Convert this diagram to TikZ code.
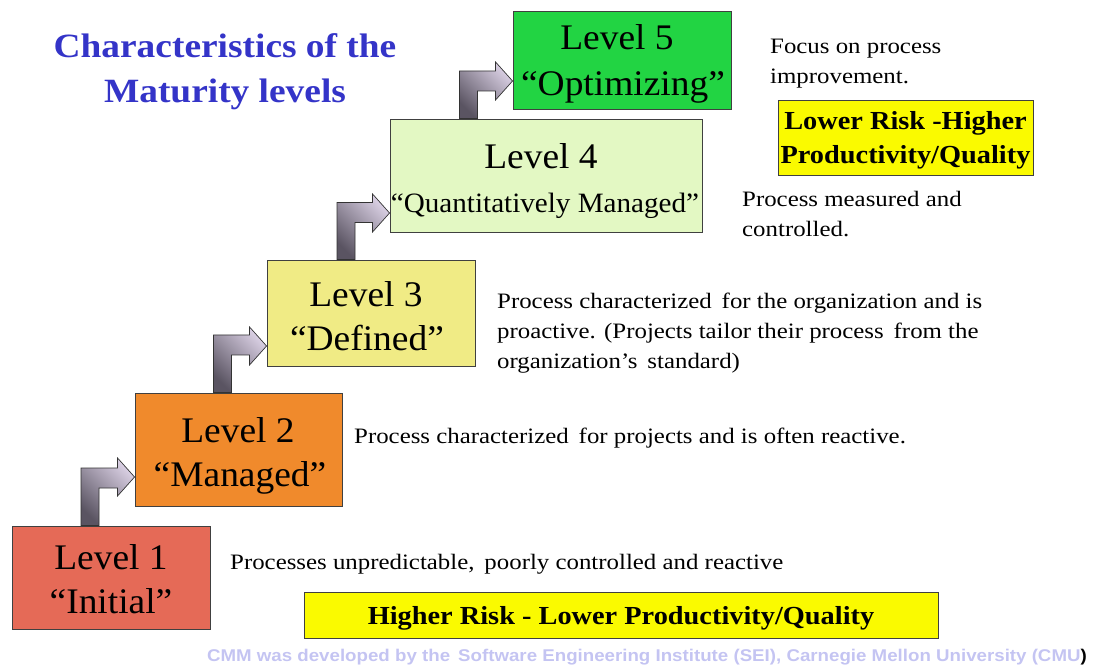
\documentclass[tikz,border=0pt]{standalone}
\usepackage{fontspec}
\setmainfont{Liberation Serif}
\newfontfamily\bodyfont[FakeStretch=1.13]{Liberation Serif}
\newfontfamily\titlefont[FakeStretch=1.1]{Liberation Serif}
\newfontfamily\riskfont[FakeStretch=1.09]{Liberation Serif}
\newfontfamily\lvlfont[FakeStretch=1.04]{Liberation Serif}
\newfontfamily\footfont[FakeStretch=1.1]{Liberation Sans}
\usetikzlibrary{calc}
\definecolor{titleblue}{HTML}{3434C8}
\definecolor{lvla}{HTML}{E56A57}
\definecolor{lvlb}{HTML}{F08A2C}
\definecolor{lvlc}{HTML}{F0EB85}
\definecolor{lvld}{HTML}{E3F8C3}
\definecolor{lvle}{HTML}{22D443}
\definecolor{riskyellow}{HTML}{FAFA00}
\definecolor{arrdark}{HTML}{5A5462}
\definecolor{arrlight}{HTML}{DAD0E4}
\definecolor{footblue}{HTML}{C4C4F2}
\definecolor{edge}{HTML}{404040}
\tikzset{
  lvlbox/.style={draw=edge, line width=0.9pt, rectangle, inner sep=0pt, align=center},
  lvltext/.style={font=\lvlfont\fontsize{36}{44}\selectfont},
  desc/.style={anchor=west, align=left, inner sep=0pt, font=\bodyfont\fontsize{22}{30}\selectfont},
  riskbox/.style={draw=edge, line width=0.9pt, fill=riskyellow, inner sep=0pt},
  risktext/.style={inner sep=0pt, align=center, font=\riskfont\bfseries\fontsize{26}{34}\selectfont},
  bentarrow/.style={draw=black!80, line width=0.7pt, top color=arrlight, bottom color=arrdark, shading angle=-45},
}
\newcommand{\bentarr}[5]{% src, dst, shaft center x, bar center y, tip y
  \path let \p1=(#1.north), \p2=(#2.west) in
    [bentarrow] ({#3-9},\y1) -- ({#3-9},{-#4+10}) -- ({\x2-17},{-#4+10}) -- ({\x2-17},{-#5+19}) --
    (\x2,-#5) -- ({\x2-17},{-#5-19}) -- ({\x2-17},{-#4-10}) -- ({#3+9},{-#4-10}) -- ({#3+9},\y1) -- cycle;
}
\begin{document}
\begin{tikzpicture}[x=1pt,y=1pt]
\useasboundingbox (0,0) rectangle (1096,-668);
% title
\node[font=\titlefont\bfseries\fontsize{34}{45}\selectfont, text=titleblue, align=center] (title) at (225,-72) {Characteristics of the\\Maturity levels};
% level boxes
\node[lvlbox, fill=lvla, minimum width=198pt, minimum height=103pt] (l1) at (111.5,-577.5) {};
\node[lvlbox, fill=lvlb, minimum width=207pt, minimum height=113pt] (l2) at (238.5,-449.5) {};
\node[lvlbox, fill=lvlc, minimum width=208pt, minimum height=106pt] (l3) at (371,-313) {};
\node[lvlbox, fill=lvld, minimum width=312pt, minimum height=113pt] (l4) at (546,-175.5) {};
\node[lvlbox, fill=lvle, minimum width=218pt, minimum height=98pt] (l5) at (622,-60) {};
% level texts
\node[lvltext] (t1a) at (111,-557) {Level 1};
\node[lvltext] (t1b) at (111,-601) {“Initial”};
\node[lvltext] (t2a) at (238,-430) {Level 2};
\node[lvltext] (t2b) at (240,-478) {“Managed”};
\node[lvltext] (t3a) at (366,-294) {Level 3};
\node[lvltext] (t3b) at (367,-338) {“Defined”};
\node[lvltext] (t4a) at (541,-156) {Level 4};
\node[font=\lvlfont\fontsize{28}{34}\selectfont] (t4b) at (545,-206) {“Quantitatively Managed”};
\node[lvltext] (t5a) at (617,-37) {Level 5};
\node[lvltext] (t5b) at (623,-87) {“Optimizing”};
% arrows
\bentarr{l1}{l2}{90}{478}{477}
\bentarr{l2}{l3}{222.5}{345}{346}
\bentarr{l3}{l4}{346}{212.5}{213}
\bentarr{l4}{l5}{468.5}{81}{81}
% descriptions
\node[desc] (d1) at (230,-564) {Processes unpredictable,\, poorly controlled and reactive};
\node[desc] (d2) at (354,-438) {Process characterized\, for projects and is often reactive.};
\node[desc] (d3) at (497,-333) {Process characterized\, for the organization and is\\proactive. (Projects tailor their process\, from the\\organization’s\, standard)};
\node[desc] (d4) at (742,-214) {Process measured and\\controlled.};
\node[desc] (d5) at (770,-64) {Focus on process\\improvement.};
% risk boxes
\node[riskbox, minimum width=255pt, minimum height=75pt] (r1) at (905.5,-137.5) {};
\node[risktext] (r1t) at ($(r1.center)+(0,-3)$) {Lower Risk -Higher\\Productivity/Quality};
\node[riskbox, minimum width=634pt, minimum height=46pt] (r2) at (621,-615) {};
\node[risktext] (r2t) at ($(r2.center)+(0,-3)$) {Higher Risk - Lower Productivity/Quality};
% footer
\node[font=\footfont\bfseries\fontsize{17}{20}\selectfont, text=footblue, anchor=east, inner sep=0pt] (foot) at (1087,-657) {CMM was developed by the\, Software Engineering Institute (SEI), Carnegie Mellon University (CMU\textcolor{black}{)}};
\end{tikzpicture}
\end{document}
